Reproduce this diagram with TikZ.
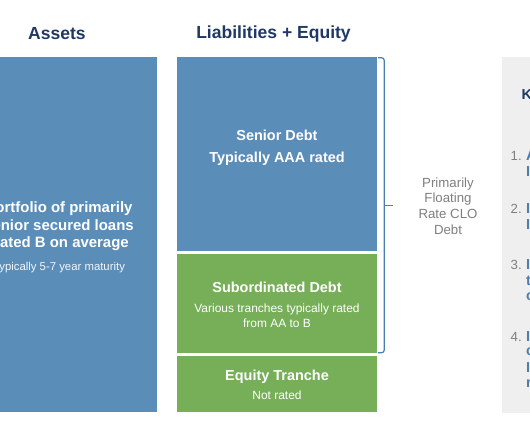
\documentclass[tikz,border=0pt]{standalone}
\usepackage{fontspec}
\setmainfont{Liberation Sans}
\usetikzlibrary{positioning,calc}
\definecolor{navy}{HTML}{1F3864}
\definecolor{boxblue}{HTML}{5B8DB9}
\definecolor{boxgreen}{HTML}{77AE58}
\definecolor{braceblue}{HTML}{4A7EB0}
\definecolor{midgray}{HTML}{7F7F7F}
\definecolor{panelgray}{HTML}{EFEFEF}
\definecolor{itemblue}{HTML}{4F7DB0}
\newcommand{\boldtxt}{\fontsize{14.5}{17.5}\selectfont\bfseries}
\newcommand{\smalltxt}{\fontsize{12}{15}\selectfont\mdseries}

\begin{document}
\begin{tikzpicture}[x=1bp,y=-1bp,
  head/.style={text=navy,inner sep=0pt,font=\fontsize{17.6}{20}\selectfont\bfseries},
  box/.style={rectangle,inner sep=0pt,minimum width=200bp},
  boxtext/.style={text=white,align=center,inner sep=0pt,font=\boldtxt},
  brace/.style={draw=braceblue,line width=1.2bp,rounded corners=2.5bp},
  num/.style={text=midgray,inner sep=0pt,anchor=west,font=\fontsize{13.3}{16}\selectfont},
  frag/.style={text=itemblue,inner sep=0pt,anchor=west,font=\boldtxt}]
\useasboundingbox (0,0) rectangle (530,443);
\clip (0,0) rectangle (530,443);
% headings
\node[head] (hassets) at (57,33.5) {Assets};
\node[head] (hliab) at (273.5,33.5) {Liabilities + Equity};
% asset side
\node[box,fill=boxblue,minimum height=354.5bp] (assets) at (57,234.75) {};
\node[boxtext,font=\fontsize{15}{17.5}\selectfont\bfseries] (assetstxt) at (59,237.5) {Portfolio of primarily\\senior secured loans\\Rated B on average\\[5.5bp]\fontsize{11.4}{14}\selectfont\mdseries\color{white!92!boxblue}Typically 5-7 year maturity};
% liabilities side
\node[box,fill=boxblue,minimum height=193.5bp] (senior) at (277,154.25) {};
\node[boxtext] (seniortxt) at (277,148) {Senior Debt\\[4.5bp]Typically AAA rated};
\node[box,fill=boxgreen,minimum height=98.5bp] (subord) at (277,303.25) {};
\node[boxtext] (subordtxt) at (277,304.5) {Subordinated Debt\\[2.5bp]\smalltxt Various tranches typically rated\\[-2.5bp]\smalltxt from AA to B};
\node[box,fill=boxgreen,minimum height=56bp] (equity) at (277,384) {};
\node[boxtext] (equitytxt) at (277,384.5) {Equity Tranche\\[1.5bp]\smalltxt Not rated};
% bracket round the debt
\coordinate (btop) at ($(senior.north east)+(1,0.5)$);
\coordinate (bbot) at ($(subord.south east)+(1,0)$);
\draw[brace] (btop) -- ++(6,0) -- ($(bbot)+(6,0)$) -- (bbot);
\coordinate (bmid) at ($(btop)!0.5!(bbot)+(6,0)$);
\draw[brace] (bmid) -- ++(9,0) coordinate (tick);
\node[text=midgray,align=center,inner sep=0pt,font=\fontsize{13.3}{15.7}\selectfont] (clodebt) at (448,206) {Primarily\\Floating\\Rate CLO\\Debt};
% side panel, cut at the edge
\node[fill=panelgray,inner sep=0pt,minimum width=40bp,minimum height=356bp,anchor=north west] (panel) at (502,57) {};
\node[head,anchor=west,font=\boldtxt] (ptitle) at (521.5,95) {K};
\node[num] (n1) at (510.5,156) {1.};
\node[num] (n2) at (510.5,209) {2.};
\node[num] (n3) at (510.5,265) {3.};
\node[num] (n4) at (510.5,337) {4.};
\foreach \y/\t in {156/A,172/I,209/I,225/I,265/I,281/t,297/c,337/I,352/c,368/I,384/r}
  \node[frag] (frag\y) at (526,\y) {\t};
\end{tikzpicture}
\end{document}
